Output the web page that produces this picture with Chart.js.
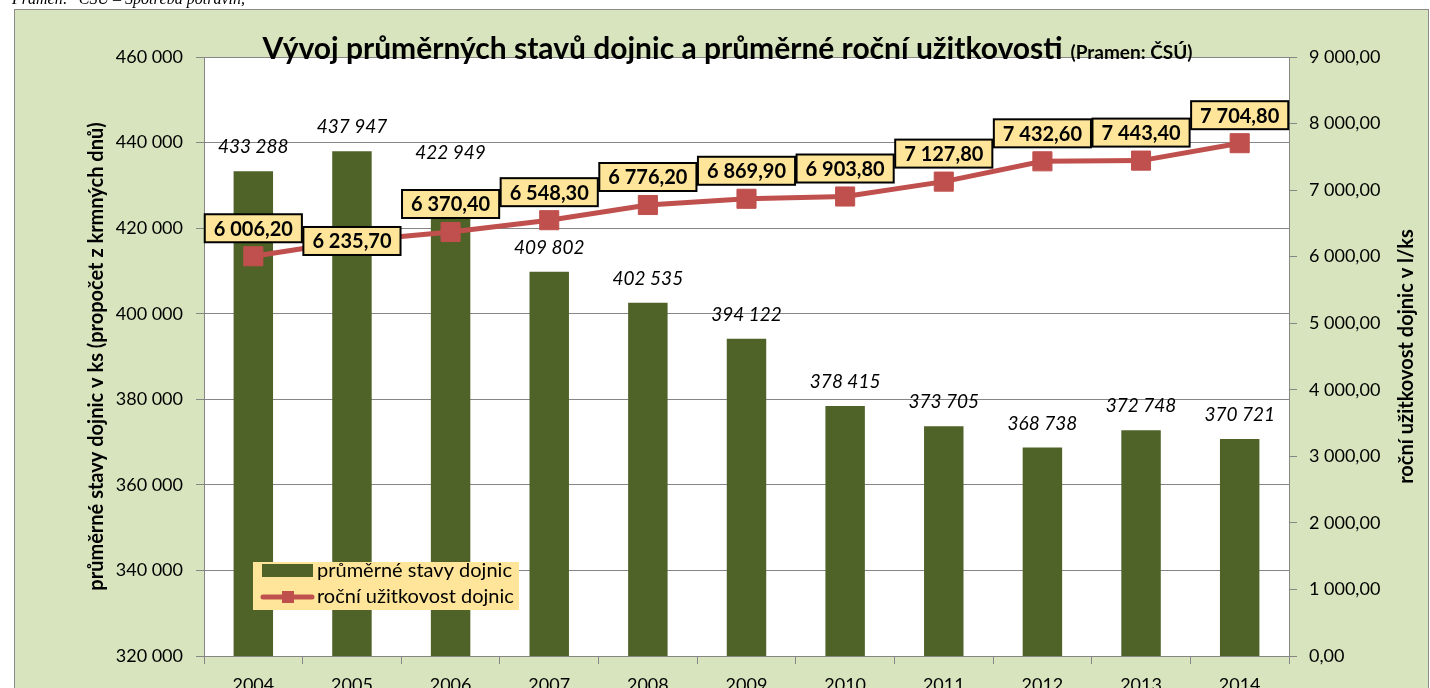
<!DOCTYPE html>
<html lang="cs">
<head>
<meta charset="utf-8">
<title>Vývoj průměrných stavů dojnic</title>
<script src="https://cdn.jsdelivr.net/npm/chart.js@4.4.1/dist/chart.umd.min.js"></script>
<style>
  html, body { margin: 0; padding: 0; background: #fff; }
  canvas { display: block; }
</style>
</head>
<body>
<canvas id="dojnice-chart" width="1430" height="688"></canvas>
<script>
const years = ['2004', '2005', '2006', '2007', '2008', '2009', '2010', '2011', '2012', '2013', '2014'];
const herdSize = [433288, 437947, 422949, 409802, 402535, 394122, 378415, 373705, 368738, 372748, 370721];
const milkYield = [6006.2, 6235.7, 6370.4, 6548.3, 6776.2, 6869.9, 6903.8, 7127.8, 7432.6, 7443.4, 7704.8];
const herdTicks = [320000, 340000, 360000, 380000, 400000, 420000, 440000, 460000];
const yieldTicks = [0, 1000, 2000, 3000, 4000, 5000, 6000, 7000, 8000, 9000];

const herdLabel = 'průměrné stavy dojnic';
const yieldLabel = 'roční užitkovost dojnic';
const mainTitle = 'Vývoj průměrných stavů dojnic a průměrné roční užitkovosti';
const subTitle = '(Pramen: ČSÚ)';
const leftTitle = 'průměrné stavy dojnic v ks (propočet z krmných dnů)';
const rightTitle = 'roční užitkovost dojnic v l/ks';
const caption = 'Pramen: "ČSÚ – Spotřeba potravin,';

const BAR = '#4f6228';
const LINE = '#c0504d';
const PANEL = '#d7e4bd';
const NOTE = '#fee599';
const GRID = '#868686';
const FONT = 'Lato';

const fmtInt = v => String(Math.round(v)).replace(/\B(?=(\d{3})+(?!\d))/g, ' ');
const fmtDec = v => {
  const [i, d] = v.toFixed(2).split('.');
  return fmtInt(+i) + ',' + d;
};

// green panel, white plot area, cut-off caption above the frame
const framePlugin = {
  id: 'frame',
  beforeDraw(chart) {
    const { ctx, chartArea: a, width, height } = chart;
    ctx.save();
    ctx.fillStyle = '#fff';
    ctx.fillRect(0, 0, width, height);
    ctx.fillStyle = PANEL;
    ctx.fillRect(15, 10, width - 16, height);
    ctx.strokeStyle = '#8c8c8c';
    ctx.lineWidth = 1;
    ctx.strokeRect(14.5, 9.5, width - 16, height);
    ctx.fillStyle = '#fff';
    ctx.fillRect(a.left, a.top, a.right - a.left, a.bottom - a.top);
    ctx.fillStyle = '#000';
    ctx.font = 'italic 16px "Liberation Serif"';
    ctx.textBaseline = 'alphabetic';
    ctx.fillText(caption, 12, 4);
    ctx.restore();
  }
};

const labelPlugin = {
  id: 'valueLabels',
  afterDatasetsDraw(chart) {
    const { ctx } = chart;
    const bars = chart.getDatasetMeta(0).data;
    const pts = chart.getDatasetMeta(1).data;
    ctx.save();
    ctx.textAlign = 'center';
    ctx.textBaseline = 'middle';

    ctx.fillStyle = '#000';
    ctx.font = 'italic 19px ' + FONT;
    bars.forEach((bar, i) => {
      // 2006 label was pushed up in the original so it clears the yield box
      const lift = i === 2 ? 63 : 24;
      ctx.fillText(fmtInt(herdSize[i]), bar.x, bar.y - lift);
    });

    ctx.font = 'bold 20px ' + FONT;
    pts.forEach((pt, i) => {
      const text = fmtDec(milkYield[i]);
      const w = ctx.measureText(text).width + 18;
      const h = 28;
      const cy = i === 1 ? pt.y : pt.y - 28;
      ctx.fillStyle = NOTE;
      ctx.fillRect(pt.x - w / 2, cy - h / 2, w, h);
      ctx.lineWidth = 2;
      ctx.strokeStyle = '#000';
      ctx.strokeRect(pt.x - w / 2, cy - h / 2, w, h);
      ctx.fillStyle = '#000';
      ctx.fillText(text, pt.x, cy + 1);
    });
    ctx.restore();
  }
};

// title, axis titles and legend box
const decorPlugin = {
  id: 'decor',
  afterDraw(chart) {
    const { ctx, chartArea: a } = chart;
    const midY = (a.top + a.bottom) / 2;
    ctx.save();
    ctx.fillStyle = '#000';
    ctx.textBaseline = 'alphabetic';
    ctx.textAlign = 'left';
    ctx.font = 'bold 30px ' + FONT;
    const w1 = ctx.measureText(mainTitle).width;
    ctx.font = 'bold 19px ' + FONT;
    const w2 = ctx.measureText(subTitle).width;
    const gap = 8;
    let x = (a.left + a.right) / 2 - 19 - (w1 + gap + w2) / 2;
    ctx.font = 'bold 30px ' + FONT;
    ctx.fillText(mainTitle, x, a.top + 2);
    ctx.font = 'bold 19px ' + FONT;
    ctx.fillText(subTitle, x + w1 + gap, a.top + 2);

    ctx.font = 'bold 20px ' + FONT;
    ctx.textAlign = 'center';
    ctx.textBaseline = 'middle';
    [[97, leftTitle], [1407, rightTitle]].forEach(([tx, t]) => {
      ctx.save();
      ctx.translate(tx, midY);
      ctx.rotate(-Math.PI / 2);
      ctx.fillText(t, 0, 0);
      ctx.restore();
    });

    const lx = a.left + 49, ly = a.bottom - 94;
    ctx.fillStyle = NOTE;
    ctx.fillRect(lx, ly, 266, 48);
    ctx.fillStyle = BAR;
    ctx.fillRect(lx + 9, ly + 2, 51, 13);
    ctx.strokeStyle = LINE;
    ctx.lineWidth = 5;
    ctx.lineCap = 'round';
    ctx.beginPath();
    ctx.moveTo(lx + 10, ly + 35);
    ctx.lineTo(lx + 59, ly + 35);
    ctx.stroke();
    ctx.fillStyle = LINE;
    ctx.fillRect(lx + 29, ly + 29, 12, 12);
    ctx.fillStyle = '#000';
    ctx.textAlign = 'left';
    ctx.font = '20px ' + FONT;
    ctx.fillText(herdLabel, lx + 64, ly + 9);
    ctx.fillText(yieldLabel, lx + 64, ly + 35);
    ctx.restore();
  }
};

function build() {
  const canvas = document.getElementById('dojnice-chart');
  new Chart(canvas.getContext('2d'), {
    data: {
      labels: years,
      datasets: [
        {
          type: 'bar',
          label: herdLabel,
          data: herdSize,
          yAxisID: 'y',
          backgroundColor: BAR,
          barPercentage: 0.4,
          categoryPercentage: 1,
          order: 1
        },
        {
          type: 'line',
          label: yieldLabel,
          data: milkYield,
          yAxisID: 'y2',
          borderColor: LINE,
          backgroundColor: LINE,
          borderWidth: 5,
          pointStyle: 'rect',
          pointRadius: 13.5,
          pointBorderWidth: 1,
          pointBackgroundColor: LINE,
          pointBorderColor: LINE,
          tension: 0,
          order: 0
        }
      ]
    },
    options: {
      responsive: false,
      animation: false,
      layout: { padding: { top: 57, left: 0, right: 0, bottom: 0 } },
      plugins: {
        legend: { display: false },
        title: { display: false },
        tooltip: { enabled: false }
      },
      scales: {
        x: {
          offset: true,
          grid: { offset: true, drawOnChartArea: false, drawTicks: true, tickLength: 8, color: GRID },
          border: { display: true, color: GRID },
          ticks: { color: '#000', padding: 10, font: { family: FONT, size: 18 } },
          afterFit: s => { s.height = 32; }
        },
        y: {
          position: 'left',
          min: herdTicks[0],
          max: herdTicks[herdTicks.length - 1],
          grid: { color: GRID, tickLength: 8 },
          border: { display: true, color: GRID },
          ticks: {
            stepSize: herdTicks[1] - herdTicks[0],
            color: '#000',
            padding: 13,
            font: { family: FONT, size: 18 },
            callback: v => fmtInt(v)
          },
          afterFit: s => { s.width = 204; }
        },
        y2: {
          position: 'right',
          min: yieldTicks[0],
          max: yieldTicks[yieldTicks.length - 1],
          grid: { drawOnChartArea: false, color: GRID, tickLength: 8 },
          border: { display: true, color: GRID },
          ticks: {
            stepSize: yieldTicks[1] - yieldTicks[0],
            color: '#000',
            padding: 12,
            font: { family: FONT, size: 18 },
            callback: v => fmtDec(v)
          },
          afterFit: s => { s.width = 141; }
        }
      }
    },
    plugins: [framePlugin, labelPlugin, decorPlugin]
  });
}

Promise.all([
  document.fonts.load('18px Lato'),
  document.fonts.load('bold 18px Lato'),
  document.fonts.load('italic 18px Lato'),
  document.fonts.load('italic 16px "Liberation Serif"')
]).then(build, build);
</script>
</body>
</html>
